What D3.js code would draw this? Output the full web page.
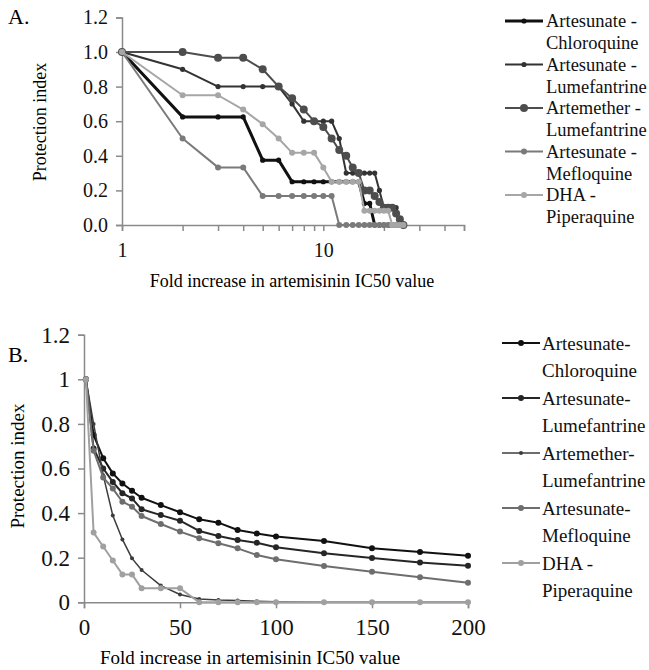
<!DOCTYPE html>
<html><head><meta charset="utf-8">
<script src="https://cdn.jsdelivr.net/npm/d3@7"></script>
<style>body{margin:0;background:#fff}svg{display:block;font-family:"Liberation Serif","Times New Roman",serif}</style>
</head><body><svg id="c" width="649" height="670"></svg>
<script>
// ---------- Panel A data ----------
const seriesNames = ["Artesunate - Chloroquine","Artesunate - Lumefantrine","Artemether - Lumefantrine","Artesunate - Mefloquine","DHA - Piperaquine"];
const legendA = [["Artesunate -","Chloroquine"],["Artesunate -","Lumefantrine"],["Artemether -","Lumefantrine"],["Artesunate -","Mefloquine"],["DHA -","Piperaquine"]];
const legendB = [["Artesunate-","Chloroquine"],["Artesunate-","Lumefantrine"],["Artemether-","Lumefantrine"],["Artesunate-","Mefloquine"],["DHA -","Piperaquine"]];
const foldA = [1,2,3,4,5,6,7,8,9,10,11,12,13,14,15,16,17,18,19,20,21,22,23,24,25];
const aCQ  = [1,0.625,0.625,0.625,0.375,0.375,0.25,0.25,0.25,0.25,0.25,0.25,0.25,0.25,0.25,0.125,0.125,0,0,0,0,0,0,0,0];
const aASL = [1,0.9,0.8,0.8,0.8,0.8,0.7,0.6,0.6,0.6,0.6,0.5,0.3,0.3,0.3,0.3,0.3,0.3,0.2,0.1,0.1,0.1,0.1,0,0];
const aAL  = [1,1,0.967,0.967,0.9,0.8,0.733,0.667,0.6,0.567,0.5,0.433,0.4,0.333,0.3,0.2,0.2,0.167,0.133,0.1,0.1,0.1,0.067,0.033,0];
const aMQ  = [1,0.5,0.333,0.333,0.167,0.167,0.167,0.167,0.167,0.167,0.167,0,0,0,0,0,0,0,0,0,0,0,0,0,0];
const aDHA = [1,0.75,0.75,0.667,0.583,0.5,0.417,0.417,0.417,0.333,0.25,0.25,0.25,0.25,0.25,0.083,0.083,0.083,0.083,0.083,0.083,0,0,0,0];
const yTicksA = [0,0.2,0.4,0.6,0.8,1.0,1.2];
const xTicksA = [1,2,3,4,5,6,7,8,9,10,20,30,40,50];
const xLabelsA = [1,10];

// ---------- Panel B data ----------
const foldB = [1,5,10,15,20,25,30,40,50,60,70,80,90,100,125,150,175,200];
const bCQ  = [1,0.75,0.646,0.578,0.533,0.5,0.469,0.436,0.404,0.372,0.357,0.324,0.309,0.295,0.275,0.242,0.226,0.209];
const bASL = [1,0.69,0.6,0.54,0.489,0.466,0.417,0.391,0.366,0.32,0.297,0.279,0.267,0.247,0.22,0.199,0.178,0.164];
const bAL  = [1,0.8,0.57,0.389,0.282,0.197,0.145,0.075,0.035,0.015,0.01,0.008,0.005,0.003,0,0,0,0];
const bMQ  = [1,0.68,0.56,0.51,0.451,0.429,0.387,0.351,0.317,0.287,0.265,0.242,0.212,0.193,0.163,0.137,0.112,0.088];
const bDHA = [1,0.3125,0.25,0.1875,0.125,0.125,0.0625,0.0625,0.0625,0,0,0,0,0,0,0,0,0];
const yTicksB = [0,0.2,0.4,0.6,0.8,1,1.2];
const xTicksB = [0,50,100,150,200];

const svg = d3.select("#c");
const axisColor = "#8a8a8a";

const stylesA = [
  {color:"#111111", w:3,   r:2.6},
  {color:"#333333", w:2,   r:2.6},
  {color:"#4d4d4d", w:2,   r:4},
  {color:"#7a7a7a", w:2,   r:3},
  {color:"#a6a6a6", w:2,   r:3}
];
const stylesB = [
  {color:"#111111", w:2,   r:3},
  {color:"#262626", w:2,   r:3},
  {color:"#3c3c3c", w:1.5, r:2},
  {color:"#6e6e6e", w:2,   r:3},
  {color:"#a0a0a0", w:2,   r:3}
];

function drawSeries(g, xs, ys, x, y, st) {
  const pts = xs.map((v,i)=>[v, ys[i]]);
  g.append("path").datum(pts)
    .attr("fill","none").attr("stroke",st.color).attr("stroke-width",st.w)
    .attr("stroke-linejoin","round")
    .attr("d", d3.line().x(d=>x(d[0])).y(d=>y(d[1])));
  g.selectAll(null).data(pts).enter().append("circle")
    .attr("cx",d=>x(d[0])).attr("cy",d=>y(d[1])).attr("r",st.r).attr("fill",st.color);
}

function styleAxis(g){
  g.select(".domain").attr("stroke",axisColor).attr("stroke-width",1.5);
  g.selectAll(".tick line").attr("stroke",axisColor).attr("stroke-width",1.5);
  g.selectAll("text").attr("fill","#111").attr("font-family","Liberation Serif, serif");
}

function drawLegend(g, labels, styles, x0, lineY, step, lineGap, fontSize, x1, tx) {
  labels.forEach((lab,i)=>{
    const yy = lineY + i*step;
    const st = styles[i];
    g.append("line").attr("x1",x0).attr("x2",x1).attr("y1",yy).attr("y2",yy)
      .attr("stroke",st.color).attr("stroke-width",st.w);
    g.append("circle").attr("cx",(x0+x1)/2).attr("cy",yy).attr("r",st.r).attr("fill",st.color);
    g.append("text").attr("x",tx).attr("y",yy).attr("dy","0.35em")
      .attr("font-size",fontSize).attr("fill","#111").text(lab[0]);
    g.append("text").attr("x",tx).attr("y",yy+lineGap).attr("dy","0.35em")
      .attr("font-size",fontSize).attr("fill","#111").text(lab[1]);
  });
}

// ================= Panel A =================
{
  const x = d3.scaleLog().domain([1,50]).range([122,464]);
  const y = d3.scaleLinear().domain([0,1.2]).range([225,17.4]);
  const g = svg.append("g");
  const ya = g.append("g").attr("transform","translate(122,0)")
    .call(d3.axisLeft(y).tickValues(yTicksA).tickFormat(d3.format(".1f")).tickSize(6).tickPadding(8));
  ya.selectAll("text").attr("font-size",20);
  styleAxis(ya);
  const xa = g.append("g").attr("transform","translate(0,225)")
    .call(d3.axisBottom(x).tickValues(xTicksA).tickSize(6).tickPadding(12)
      .tickFormat(d=> xLabelsA.includes(d) ? String(d) : ""));
  xa.selectAll("text").attr("font-size",20);
  styleAxis(xa);
  const ser = [aCQ,aASL,aAL,aMQ,aDHA];
  ser.forEach((s,i)=>drawSeries(g, foldA, s, x, y, stylesA[i]));
  g.append("text").attr("x",292).attr("y",287).attr("text-anchor","middle").attr("font-size",18).text("Fold increase in artemisinin IC50 value");
  g.append("text").attr("transform","translate(40,122) rotate(-90)").attr("text-anchor","middle").attr("dy","0.35em").attr("font-size",18).text("Protection index");
  g.append("text").attr("x",8).attr("y",24).attr("font-size",22).text("A.");
  drawLegend(g, legendA, stylesA, 505, 21, 43.5, 21.7, 18.5, 543, 546);
}

// ================= Panel B =================
{
  const x = d3.scaleLinear().domain([0,200]).range([84,468]);
  const y = d3.scaleLinear().domain([0,1.2]).range([602.3,334.7]);
  const g = svg.append("g");
  const ya = g.append("g").attr("transform","translate(84,0)")
    .call(d3.axisLeft(y).tickValues(yTicksB).tickFormat(d=>String(d)).tickSize(6).tickPadding(8));
  ya.selectAll("text").attr("font-size",23);
  styleAxis(ya);
  const xa = g.append("g").attr("transform","translate(0,602.3)")
    .call(d3.axisBottom(x).tickValues(xTicksB).tickSize(6).tickPadding(10));
  xa.selectAll("text").attr("font-size",23);
  styleAxis(xa);
  const ser = [bCQ,bASL,bAL,bMQ,bDHA];
  ser.forEach((s,i)=>drawSeries(g, foldB, s, x, y, stylesB[i]));
  g.append("text").attr("x",250).attr("y",664).attr("text-anchor","middle").attr("font-size",19).text("Fold increase in artemisinin IC50 value");
  g.append("text").attr("transform","translate(17,466) rotate(-90)").attr("text-anchor","middle").attr("dy","0.35em").attr("font-size",19).text("Protection index");
  g.append("text").attr("x",8).attr("y",362).attr("font-size",22).text("B.");
  drawLegend(g, legendB, stylesB, 502, 343, 55, 27, 19, 540, 542);
}
</script></body></html>
